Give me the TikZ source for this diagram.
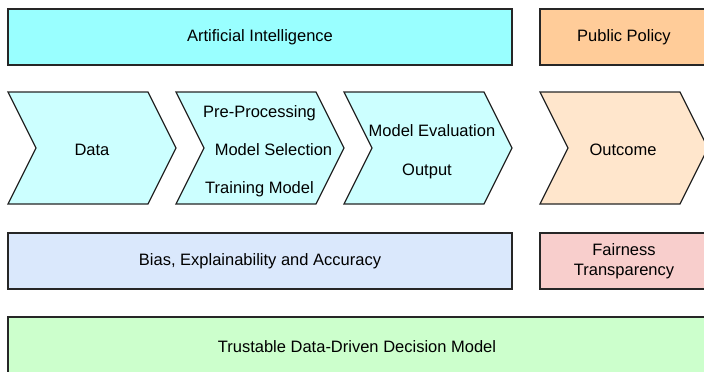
\documentclass[tikz,border=0pt]{standalone}
\usepackage{fontspec}
\setmainfont{Liberation Sans}
\usepackage{tikz}
\definecolor{aicyan}{RGB}{153,255,255}
\definecolor{chevcyan}{RGB}{204,255,255}
\definecolor{policyorange}{RGB}{255,204,153}
\definecolor{outcomeorange}{RGB}{255,230,204}
\definecolor{biasblue}{RGB}{218,232,252}
\definecolor{fairred}{RGB}{248,206,204}
\definecolor{trustgreen}{RGB}{204,255,204}
\tikzset{
    outline/.style={draw=black!85, line width=1.3pt},
    box/.style={outline, rectangle, inner sep=0pt, minimum height=56pt},
    steptext/.style={inner sep=0pt, text height=12pt, text depth=0pt},
}
\newcommand{\drawchevron}[2]{\filldraw[outline, fill=#2] (#1,92) -- ++(140,0) -- ++(28,56) -- ++(-28,56) -- ++(-140,0) -- ++(28,-56) -- cycle;}

\begin{document}
\begin{tikzpicture}[x=1pt, y=-1pt, font=\fontsize{16.5}{20}\selectfont]
    \useasboundingbox (0,0) rectangle (704,372);
    \clip (0,0) rectangle (704,372);

    % Draw top row
    \node[box, fill=aicyan, minimum width=504pt] (ai) at (260,37) {Artificial Intelligence};
    \node[box, fill=policyorange, minimum width=168pt] (policy) at (624,37) {Public Policy};

    % Draw chevrons
    \drawchevron{8}{chevcyan}
    \drawchevron{176}{chevcyan}
    \drawchevron{344}{chevcyan}
    \drawchevron{540}{outcomeorange}

    \node[steptext] (data) at (92,149) {Data};
    \node[steptext] (prep) at (259.5,111) {Pre-Processing};
    \node[steptext] (select) at (273.5,149) {Model Selection};
    \node[steptext] (train) at (259.5,187) {Training Model};
    \node[steptext] (eval) at (432,130) {Model Evaluation};
    \node[steptext] (output) at (427,169) {Output};
    \node[steptext] (outcome) at (623,149) {Outcome};

    % Draw bottom rows
    \node[box, fill=biasblue, minimum width=504pt] (bias) at (260,261) {Bias, Explainability and Accuracy};
    \node[box, fill=fairred, minimum width=168pt, align=center] (fair) at (624,261) {Fairness\\Transparency};
    \node[box, fill=trustgreen, minimum width=700pt, minimum height=80pt] (trust) at (358,357) {};
    \node[steptext] (trustlabel) at (357,346) {Trustable Data-Driven Decision Model};
\end{tikzpicture}
\end{document}
